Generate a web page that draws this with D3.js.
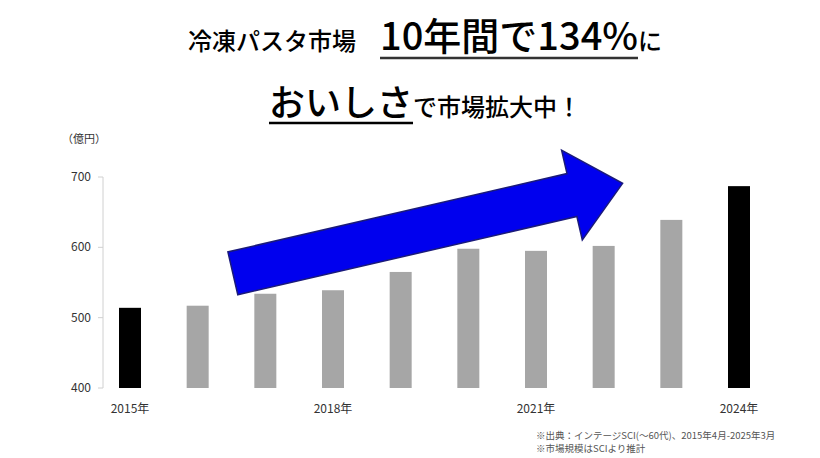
<!DOCTYPE html><html><head><meta charset="utf-8"><script src="https://cdn.jsdelivr.net/npm/d3@7"></script>
<style>body{margin:0;background:#fff}text{font-family:"Noto Sans CJK JP","Noto Serif CJK JP",serif}</style></head><body><svg id="c" width="820" height="458"></svg><script>
const years=[2015,2016,2017,2018,2019,2020,2021,2022,2023,2024];
const values=[514,517,534,539,565,598,595,602,639,687];
const highlight=[2015,2024];
const yTicks=[400,500,600,700];
const xLabels=["2015年","","","2018年","","","2021年","","","2024年"];
const svg=d3.select("#c");
const x=d3.scaleLinear().domain([0,9]).range([130,739]);
const y=d3.scaleLinear().domain([400,700]).range([388,177]);
// title
const t1=svg.append("text").attr("x",425).attr("y",50).attr("text-anchor","middle").attr("fill","#000").attr("font-weight","500");
t1.append("tspan").attr("font-size",24).text("冷凍パスタ市場　");
const u1=t1.append("tspan").attr("font-size",38).text("10年間で134%");
t1.append("tspan").attr("font-size",24).text("に");
const t2=svg.append("text").attr("x",425).attr("y",116).attr("text-anchor","middle").attr("fill","#000").attr("font-weight","500");
const u2=t2.append("tspan").attr("font-size",36).text("おいしさ");
t2.append("tspan").attr("font-size",24).text("で市場拡大中！");
[[u1,t1,58,"#333"],[u2,t2,123,"#000"]].forEach(([u,t,yy,c])=>{
 const n=t.node(),nc=u.text().length,start=u.node().getStartPositionOfChar?n.getStartPositionOfChar(t===t1?8:0).x:0,end=n.getEndPositionOfChar((t===t1?8:0)+nc-1).x;
 svg.append("line").attr("x1",start).attr("x2",end).attr("y1",yy).attr("y2",yy).attr("stroke",c).attr("stroke-width",2.5);});
svg.append("text").attr("x",62).attr("y",143).attr("font-size",11).attr("fill","#333").text("（億円）");
// axis
svg.append("line").attr("x1",103).attr("x2",103).attr("y1",y(700)).attr("y2",y(400)).attr("stroke","#d0d0d0");
yTicks.forEach(v=>{svg.append("line").attr("x1",98).attr("x2",103).attr("y1",y(v)).attr("y2",y(v)).attr("stroke","#d0d0d0");
svg.append("text").attr("x",91).attr("y",y(v)+4).attr("text-anchor","end").attr("font-size",12).attr("fill","#333").text(v);});
svg.selectAll("rect.b").data(values).enter().append("rect").attr("x",(d,i)=>x(i)-11).attr("width",22)
 .attr("y",d=>y(d)).attr("height",d=>y(400)-y(d)).attr("fill",(d,i)=>highlight.includes(years[i])?"#000":"#a6a6a6");
xLabels.forEach((l,i)=>{if(l)svg.append("text").attr("x",x(i)).attr("y",413).attr("text-anchor","middle").attr("font-size",12).attr("fill","#333").text(l);});
// arrow
const p0=[x(1.52),y(563)],p1=[x(7.28),y(691)];
const dx=p1[0]-p0[0],dy=p1[1]-p0[1],L=Math.hypot(dx,dy),ux=dx/L,uy=dy/L,nx=-uy,ny=ux;
const hw=22,hh=46,hl=52;const b=[p1[0]-ux*hl,p1[1]-uy*hl];
const pts=[[p0[0]+nx*hw,p0[1]+ny*hw],[b[0]+nx*hw,b[1]+ny*hw],[b[0]+nx*hh,b[1]+ny*hh],p1,[b[0]-nx*hh,b[1]-ny*hh],[b[0]-nx*hw,b[1]-ny*hw],[p0[0]-nx*hw,p0[1]-ny*hw]];
svg.append("path").attr("d",d3.line()(pts)+"Z").attr("fill","#0000ee").attr("stroke","#1a1a7a").attr("stroke-width",1.5);
svg.append("text").attr("x",536).attr("y",439).attr("font-size",9.5).attr("fill","#555").text("※出典：インテージSCI(～60代)、2015年4月-2025年3月");
svg.append("text").attr("x",536).attr("y",452).attr("font-size",9.5).attr("fill","#555").text("※市場規模はSCIより推計");
</script></body></html>
